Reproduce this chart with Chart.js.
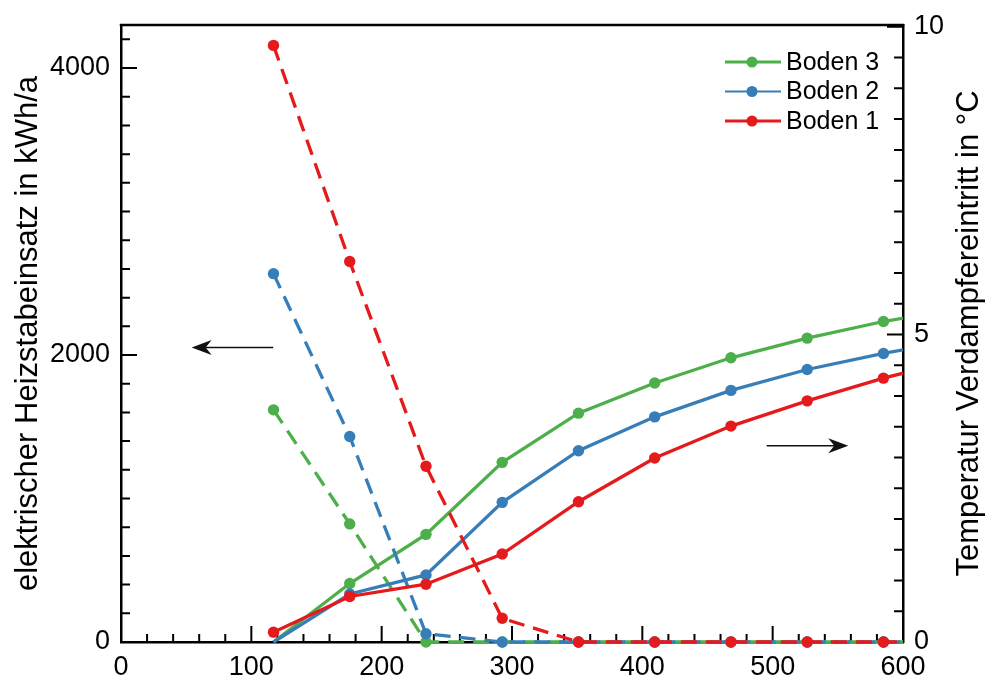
<!DOCTYPE html>
<html>
<head>
<meta charset="utf-8">
<script src="https://cdn.jsdelivr.net/npm/chart.js@4.4.0/dist/chart.umd.min.js"></script>
<style>
  html, body { margin: 0; padding: 0; background: #fff; }
  #wrap { width: 986px; height: 682px; }
</style>
</head>
<body>
<div id="wrap"><canvas id="chart"></canvas></div>
<script>
// Heizstableistung (links, gestrichelt) und Verdampfereintritt (rechts, durchgezogen)
const xValues = [117, 175.5, 234, 292.5, 351, 409.5, 468, 526.5, 585, 643.5];

const heizBoden1 = [4158, 2652, 1225, 165, 0, 0, 0, 0, 0, 0];
const heizBoden2 = [2567, 1432, 58, 0, 0, 0, 0, 0, 0, 0];
const heizBoden3 = [1618, 823, 0, 0, 0, 0, 0, 0, 0, 0];

const tempBoden1 = [0.16, 0.74, 0.94, 1.43, 2.28, 2.99, 3.51, 3.92, 4.29, 4.60];
const tempBoden2 = [0, 0.78, 1.09, 2.27, 3.11, 3.66, 4.09, 4.43, 4.69, 4.92];
const tempBoden3 = [0, 0.95, 1.75, 2.92, 3.72, 4.21, 4.62, 4.94, 5.21, 5.42];

const xTicks = [0, 100, 200, 300, 400, 500, 600];
const leftTicks = [0, 2000, 4000];
const rightTicks = [0, 5, 10];

const labels = ['Boden 1', 'Boden 2', 'Boden 3'];
const colors = ['#e41a1c', '#377eb8', '#4daf4a'];

const leftTitle = 'elektrischer Heizstabeinsatz in kWh/a';
const rightTitle = 'Temperatur Verdampfereintritt in °C';

const FONT = '"Liberation Sans", Arial, Helvetica, sans-serif';

function pts(arr) {
  return xValues.map((x, i) => ({ x: x, y: arr[i] }));
}

const clipBox = { left: 10, top: 10, right: 0, bottom: 10 };

const datasets = [];
const heiz = [heizBoden1, heizBoden2, heizBoden3];
const temp = [tempBoden1, tempBoden2, tempBoden3];
for (let i = 0; i < 3; i++) {
  datasets.push({
    label: labels[i],
    data: pts(temp[i]),
    yAxisID: 'yR',
    borderColor: colors[i],
    backgroundColor: colors[i],
    borderWidth: 3.3,
    pointRadius: temp[i].map((v, j) => (j === 0 && v === 0 ? 0 : 5.7)),
    pointBorderWidth: 0,
    clip: clipBox
  });
  datasets.push({
    label: labels[i] + ' Heizstab',
    data: pts(heiz[i]),
    yAxisID: 'yL',
    borderColor: colors[i],
    backgroundColor: colors[i],
    borderWidth: 3.3,
    borderDash: [16, 9],
    pointRadius: 5.7,
    pointBorderWidth: 0,
    clip: clipBox
  });
}

function drawArrow(ctx, x1, y1, x2, y2) {
  const ang = Math.atan2(y2 - y1, x2 - x1);
  ctx.save();
  ctx.strokeStyle = '#111';
  ctx.fillStyle = '#111';
  ctx.lineWidth = 1.5;
  ctx.beginPath();
  ctx.moveTo(x1, y1);
  ctx.lineTo(x2 - 10 * Math.cos(ang), y2 - 10 * Math.sin(ang));
  ctx.stroke();
  ctx.translate(x2, y2);
  ctx.rotate(ang);
  ctx.beginPath();
  ctx.moveTo(0, 0);
  ctx.lineTo(-20, -7.5);
  ctx.lineTo(-14, 0);
  ctx.lineTo(-20, 7.5);
  ctx.closePath();
  ctx.fill();
  ctx.restore();
}

const decor = {
  id: 'decor',
  beforeDatasetsDraw(chart) {
    const ctx = chart.ctx;
    const a = chart.chartArea;
    const sx = chart.scales.x, sl = chart.scales.yL, sr = chart.scales.yR;
    ctx.save();
    ctx.strokeStyle = '#000';
    ctx.lineWidth = 2;
    ctx.beginPath();
    for (let v = 0; v <= 600; v += 20) {
      const p = sx.getPixelForValue(v);
      const len = v % 100 === 0 ? 16 : 8;
      ctx.moveTo(p, a.bottom);
      ctx.lineTo(p, a.bottom - len);
    }
    for (let v = 0; v <= 4200; v += 200) {
      const p = sl.getPixelForValue(v);
      const len = v % 2000 === 0 ? 16 : 9;
      ctx.moveTo(a.left, p);
      ctx.lineTo(a.left + len, p);
    }
    for (let i = 0; i <= 20; i++) {
      const v = i * 0.5;
      const p = sr.getPixelForValue(v);
      const len = i % 10 === 0 ? 16 : 9;
      ctx.moveTo(a.right, p);
      ctx.lineTo(a.right - len, p);
    }
    ctx.stroke();
    // top frame
    ctx.lineWidth = 2.5;
    ctx.beginPath();
    ctx.moveTo(a.left - 1.25, a.top);
    ctx.lineTo(a.right + 1.25, a.top);
    ctx.stroke();
    ctx.restore();
  },
  afterDraw(chart) {
    const ctx = chart.ctx;
    const a = chart.chartArea;
    const sx = chart.scales.x, sl = chart.scales.yL, sr = chart.scales.yR;
    ctx.save();

    // arrows pointing to the axis each curve belongs to
    drawArrow(ctx, sx.getPixelForValue(116.8), sl.getPixelForValue(2053),
      sx.getPixelForValue(54.2), sl.getPixelForValue(2053));
    drawArrow(ctx, sx.getPixelForValue(495.4), sr.getPixelForValue(3.19),
      sx.getPixelForValue(558), sr.getPixelForValue(3.19));

    // legend (solid series only, top to bottom: 3, 2, 1)
    ctx.font = '25px ' + FONT;
    ctx.textBaseline = 'middle';
    ctx.textAlign = 'left';
    const legendSets = chart.data.datasets.filter(d => !d.borderDash).reverse();
    legendSets.forEach((d, k) => {
      const y = a.top + 37 + k * 29.5;
      const x0 = a.right - 178;
      ctx.strokeStyle = d.borderColor;
      ctx.lineWidth = k === 1 ? 2 : 3;
      ctx.beginPath();
      ctx.moveTo(x0, y);
      ctx.lineTo(x0 + 56, y);
      ctx.stroke();
      ctx.fillStyle = d.backgroundColor;
      ctx.beginPath();
      ctx.arc(x0 + 27, y, 5.5, 0, Math.PI * 2);
      ctx.fill();
      ctx.fillStyle = '#000';
      ctx.fillText(d.label, x0 + 61, y + 1);
    });

    // axis titles, both reading bottom to top
    const cy = (a.top + a.bottom) / 2;
    ctx.font = '31px ' + FONT;
    ctx.fillStyle = '#000';
    ctx.textAlign = 'center';
    ctx.textBaseline = 'alphabetic';
    ctx.save();
    ctx.translate(a.left - 84, cy);
    ctx.rotate(-Math.PI / 2);
    ctx.fillText(leftTitle, 0, 0);
    ctx.restore();
    ctx.save();
    ctx.translate(a.right + 75, cy);
    ctx.rotate(-Math.PI / 2);
    ctx.fillText(rightTitle, 0, 0);
    ctx.restore();

    ctx.restore();
  }
};

const tickFont = { family: FONT, size: 27, lineHeight: 1 };
const border = { display: true, color: '#000', width: 2.5 };

function fixedTicks(list) {
  return s => { s.ticks = list.map(v => ({ value: v })); };
}

new Chart(document.getElementById('chart'), {
  type: 'line',
  data: { datasets: datasets },
  options: {
    responsive: true,
    maintainAspectRatio: false,
    animation: false,
    layout: { padding: { top: 25, left: 0, right: 0, bottom: 0 } },
    plugins: {
      legend: { display: false },
      tooltip: { enabled: false }
    },
    scales: {
      x: {
        type: 'linear',
        min: 0,
        max: 600,
        grid: { display: false, drawTicks: false },
        border: border,
        afterBuildTicks: fixedTicks(xTicks),
        ticks: {
          autoSkip: false,
          font: tickFont,
          color: '#000',
          padding: 12,
          maxRotation: 0,
          callback: v => String(v)
        },
        afterFit: s => { s.height = 40; }
      },
      yL: {
        type: 'linear',
        position: 'left',
        min: 0,
        max: 4300,
        grid: { display: false, drawTicks: false },
        border: border,
        afterBuildTicks: fixedTicks(leftTicks),
        ticks: {
          autoSkip: false,
          font: tickFont,
          color: '#000',
          padding: 11,
          callback: v => String(v)
        },
        afterFit: s => { s.width = 121; }
      },
      yR: {
        type: 'linear',
        position: 'right',
        min: 0,
        max: 10.03,
        grid: { display: false, drawTicks: false },
        border: border,
        afterBuildTicks: fixedTicks(rightTicks),
        ticks: {
          autoSkip: false,
          font: tickFont,
          color: '#000',
          padding: 11,
          callback: v => String(v)
        },
        afterFit: s => { s.width = 83; }
      }
    }
  },
  plugins: [decor]
});
</script>
</body>
</html>
